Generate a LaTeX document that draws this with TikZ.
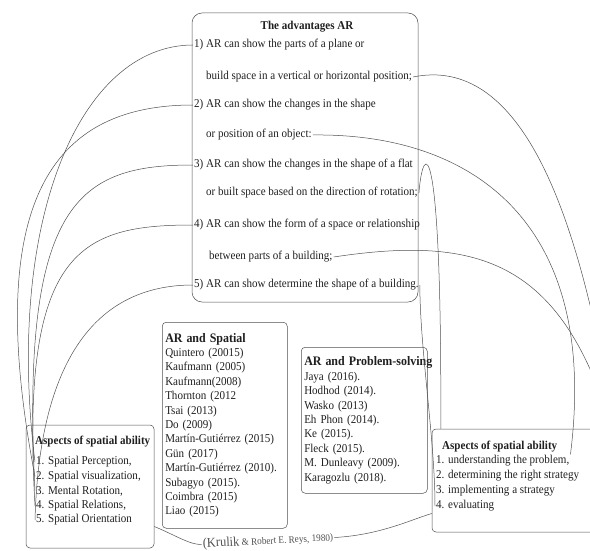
\documentclass[tikz,border=0pt]{standalone}
\usepackage{fontspec}
\setmainfont{Liberation Serif}[FakeStretch=0.92]
\usepackage{tikz}
\usetikzlibrary{positioning}
\definecolor{inkgray}{HTML}{1F1F1F}
\definecolor{linegray}{HTML}{505050}
\tikzstyle{panel} = [rectangle, rounded corners=4pt, 
draw=linegray, 
line width=0.5pt]
\tikzstyle{heading} = [font=\fontsize{12}{14.4}\selectfont\bfseries, 
inner sep=1pt]
\tikzstyle{entry} = [font=\fontsize{12}{14.4}\selectfont, 
inner sep=1pt, 
anchor=west]
\tikzstyle{reflist} = [panel, anchor=north west, 
align=left, 
inner sep=3pt, 
font=\fontsize{12}{14.4}\selectfont]
\tikzstyle{link} = [draw=linegray, line width=0.5pt]

\begin{document}
\begin{tikzpicture}[x=1pt, y=-1pt, text=inkgray]
        \useasboundingbox (0,0) rectangle (590,551);
        
        % advantages of AR
        \node (adv) [panel, rounded corners=10pt, minimum width=226pt, minimum height=289pt] at (305,157.5) {};
        \node (advtitle) [heading] at (307,27) {The advantages AR};
        \node (a1) [entry] at (193,45) {1) AR can show the parts of a plane or};
        \node (a1b) [entry] at (205,77) {build space in a vertical or horizontal position;};
        \node (a2) [entry] at (193,105) {2) AR can show the changes in the shape};
        \node (a2b) [entry] at (205,135) {or position of an object:};
        \node (a3) [entry] at (193,165) {3) AR can show the changes in the shape of a flat};
        \node (a3b) [entry] at (205,193) {or built space based on the direction of rotation;};
        \node (a4) [entry] at (193,225) {4) AR can show the form of a space or relationship};
        \node (a4b) [entry] at (208,257) {between parts of a building;};
        \node (a5) [entry] at (193,285) {5) AR can show determine the shape of a building.};
        
        % spatial ability
        \node (spbox) [panel, minimum width=128pt, minimum height=123pt] at (90,486.5) {};
        \node (sptitle) [heading, anchor=west] at (34,442) {Aspects of spatial ability};
        \node (sp1) [entry] at (35,462) {1. Spatial Perception,};
        \node (sp2) [entry] at (35,476.5) {2. Spatial visualization,};
        \node (sp3) [entry] at (35,491) {3. Mental Rotation,};
        \node (sp4) [entry] at (35,505.5) {4. Spatial Relations,};
        \node (sp5) [entry] at (35,520) {5. Spatial Orientation};
        
        % problem solving
        \node (psbox) [panel, minimum width=166pt, minimum height=103pt] at (515,480.5) {};
        \node (pstitle) [heading, anchor=west] at (441,447) {Aspects of spatial ability};
        \node (ps1) [entry] at (435,461) {1. understanding the problem,};
        \node (ps2) [entry] at (435,476) {2. determining the right strategy};
        \node (ps3) [entry] at (435,491) {3. implementing a strategy};
        \node (ps4) [entry] at (435,506) {4. evaluating};
        
        \node (arsp) [reflist, text width=119pt, minimum height=206pt] at (162,322) {\textbf{\fontsize{13}{15}\selectfont AR and Spatial}\\
        Quintero (20015)\\ Kaufmann (2005)\\ Kaufmann(2008)\\ Thornton (2012\\ Tsai (2013)\\ Do (2009)\\
        Martín-Gutiérrez (2015)\\ Gün (2017)\\ Martín-Gutiérrez (2010).\\ Subagyo (2015).\\ Coimbra (2015)\\ Liao (2015)};
        
        \node (arps) [reflist, text width=120pt, minimum height=146pt] at (301,347) {\mbox{\textbf{\fontsize{13}{15}\selectfont AR and Problem-solving}}\\
        Jaya (2016).\\ Hodhod (2014).\\ Wasko (2013)\\ Eh Phon (2014).\\ Ke (2015).\\ Fleck (2015).\\
        M. Dunleavy (2009).\\ Karagozlu (2018).};
        
        \node (src) [rotate=3, inner sep=1pt, text=linegray] at (268,541) {{\fontsize{13.5}{14}\selectfont (Krulik} \fontsize{10}{12}\selectfont \& Robert E. Reys, 1980)};
        
        \coordinate (offA) at (598,340);
        \coordinate (offD) at (615,440);
        
        % links to the spatial aspects
        \draw [link] (a1.west) .. controls (80,45) and (5,220) .. (sp1.west);
        \draw [link] (a2.west) .. controls (60,105) and (-20,190) .. (sp2.west);
        \draw [link] (a3.west) .. controls (80,165) and (20,200) .. (sp3.west);
        \draw [link] (a4.west) .. controls (80,225) and (20,250) .. (sp4.west);
        \draw [link] (a5.west) .. controls (110,285) and (40,340) .. (sp5.west);
        
        % links to problem solving
        \draw [link] (a1b.east) .. controls (520,55) and (570,210) .. (offA);
        \draw [link] (a2b.east) .. controls (470,133) and (600,220) .. (ps1.north east);
        \draw [link] (a3b.east) .. controls (423,140) and (442,130) .. ([xshift=9pt]psbox.north west);
        \draw [link] (a4b.east) .. controls (480,235) and (565,260) .. (offD);
        \draw [link] (a5.east) .. controls (420,350) and (435,440) .. (ps4.west);
        
        \draw [link] ([yshift=-40pt]spbox.east) .. controls (175,535) and (190,545) .. (src.west);
        \draw [link] (src.east) .. controls (380,535) and (410,520) .. ([yshift=-33pt]psbox.west);
        
        \end{tikzpicture}
\end{document}
